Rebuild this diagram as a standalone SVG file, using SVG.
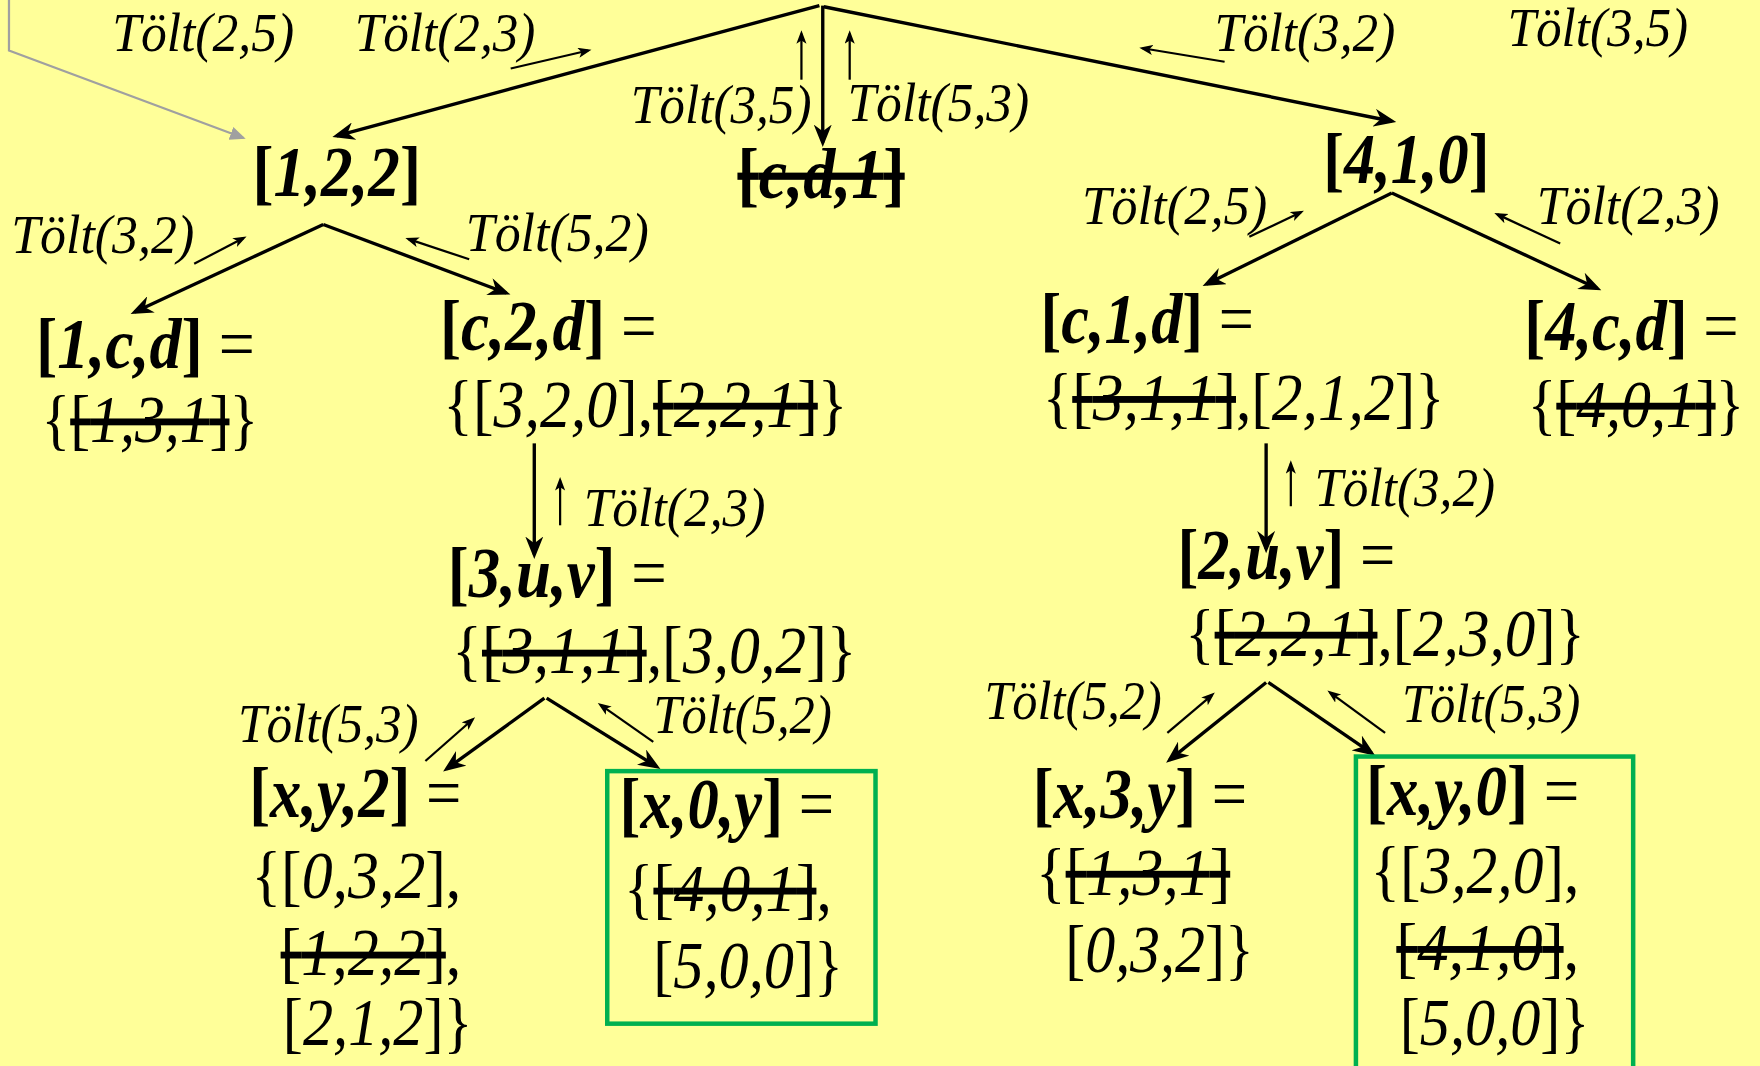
<svg xmlns="http://www.w3.org/2000/svg" width="1760" height="1066" viewBox="0 0 1760 1066">
<style>
.lbl{font-family:"Liberation Serif",serif;font-style:italic;font-size:49px;fill:#000}
.nd{font-family:"Liberation Serif",serif;font-weight:bold;font-size:64px;fill:#000}
.st{font-family:"Liberation Serif",serif;font-size:61px;fill:#000}
.i{font-style:italic}
.r{font-weight:normal;font-style:normal}
.x{text-decoration:line-through}
.m{stroke:#000;stroke-width:3;fill:none;marker-end:url(#am)}
.s{stroke:#000;stroke-width:2;fill:none;marker-end:url(#as)}
.g{stroke:#A0A0A0;stroke-width:2;fill:none;marker-end:url(#ag)}
.box{fill:none;stroke:#00B050;stroke-width:4}
</style>
<defs>
<marker id="am" markerWidth="22" markerHeight="16" refX="16" refY="8" orient="auto" markerUnits="userSpaceOnUse"><path d="M0,0 L20,8 L0,16 L6,8 z" fill="#000"/></marker>
<marker id="as" markerWidth="14" markerHeight="10" refX="9" refY="4.5" orient="auto" markerUnits="userSpaceOnUse"><path d="M0,0 L12,4.5 L0,9 L3,4.5 z" fill="#000"/></marker>
<marker id="ag" markerWidth="16" markerHeight="14" refX="12" refY="6" orient="auto" markerUnits="userSpaceOnUse"><path d="M0,0 L14,6 L0,12 z" fill="#A0A0A0"/></marker>
</defs>
<rect width="1760" height="1066" fill="#FFFF99"/>
<g transform="scale(1.12245)">
<g id="connectors">
<polyline class="g" points="8,0 8,45 217,123"/>
<line class="m" x1="730" y1="5" x2="300" y2="121"/>
<line class="m" x1="733" y1="5" x2="733" y2="127"/>
<line class="m" x1="734" y1="6" x2="1240" y2="108"/>
<line class="m" x1="288" y1="200" x2="120" y2="278"/>
<line class="m" x1="288" y1="200" x2="451" y2="261"/>
<line class="m" x1="476" y1="395" x2="476" y2="494"/>
<line class="m" x1="485" y1="622" x2="398" y2="685"/>
<line class="m" x1="487" y1="622" x2="585" y2="683"/>
<line class="m" x1="1240" y1="172" x2="1075" y2="253"/>
<line class="m" x1="1240" y1="172" x2="1423" y2="257"/>
<line class="m" x1="1128" y1="395" x2="1128" y2="489"/>
<line class="m" x1="1128" y1="608" x2="1042" y2="677"/>
<line class="m" x1="1130" y1="608" x2="1222" y2="671"/>
<line class="s" x1="455" y1="61" x2="524" y2="45"/>
<line class="s" x1="714" y1="71" x2="714" y2="30"/>
<line class="s" x1="757" y1="71" x2="757" y2="30"/>
<line class="s" x1="1091" y1="55" x2="1018" y2="43"/>
<line class="s" x1="173" y1="235" x2="217" y2="212"/>
<line class="s" x1="418" y1="231" x2="364" y2="213"/>
<line class="s" x1="499" y1="468" x2="499" y2="428"/>
<line class="s" x1="379" y1="678" x2="421" y2="641"/>
<line class="s" x1="582" y1="661" x2="535" y2="628"/>
<line class="s" x1="1113" y1="211" x2="1159" y2="189"/>
<line class="s" x1="1390" y1="217" x2="1334" y2="191"/>
<line class="s" x1="1150" y1="451" x2="1150" y2="413"/>
<line class="s" x1="1040" y1="653" x2="1080" y2="619"/>
<line class="s" x1="1234" y1="653" x2="1185" y2="617"/>
</g>
<g id="labels">
<text class="lbl" x="100" y="45" textLength="162" lengthAdjust="spacingAndGlyphs">Tölt(2,5)</text>
<text class="lbl" x="316" y="45" textLength="161" lengthAdjust="spacingAndGlyphs">Tölt(2,3)</text>
<text class="lbl" x="1082" y="45" textLength="161" lengthAdjust="spacingAndGlyphs">Tölt(3,2)</text>
<text class="lbl" x="1343" y="41" textLength="161" lengthAdjust="spacingAndGlyphs">Tölt(3,5)</text>
<text class="lbl" x="562" y="110" textLength="161" lengthAdjust="spacingAndGlyphs">Tölt(3,5)</text>
<text class="lbl" x="755" y="108" textLength="162" lengthAdjust="spacingAndGlyphs">Tölt(5,3)</text>
<text class="lbl" x="10" y="225" textLength="163" lengthAdjust="spacingAndGlyphs">Tölt(3,2)</text>
<text class="lbl" x="415" y="224" textLength="163" lengthAdjust="spacingAndGlyphs">Tölt(5,2)</text>
<text class="lbl" x="964" y="200" textLength="165" lengthAdjust="spacingAndGlyphs">Tölt(2,5)</text>
<text class="lbl" x="1369" y="200" textLength="163" lengthAdjust="spacingAndGlyphs">Tölt(2,3)</text>
<text class="lbl" x="520" y="469" textLength="162" lengthAdjust="spacingAndGlyphs">Tölt(2,3)</text>
<text class="lbl" x="1171" y="451" textLength="161" lengthAdjust="spacingAndGlyphs">Tölt(3,2)</text>
<text class="lbl" x="212" y="661" textLength="161" lengthAdjust="spacingAndGlyphs">Tölt(5,3)</text>
<text class="lbl" x="582" y="653" textLength="159" lengthAdjust="spacingAndGlyphs">Tölt(5,2)</text>
<text class="lbl" x="877" y="641" textLength="158" lengthAdjust="spacingAndGlyphs">Tölt(5,2)</text>
<text class="lbl" x="1249" y="643" textLength="159" lengthAdjust="spacingAndGlyphs">Tölt(5,3)</text>
</g>
<g id="n122"><text class="nd" x="225" y="175" textLength="150" lengthAdjust="spacingAndGlyphs">[<tspan class="i">1,2,2</tspan>]</text></g>
<g id="ncd1"><text class="nd" x="657" y="176" textLength="149" lengthAdjust="spacingAndGlyphs"><tspan class="x">[<tspan class="i">c,d,1</tspan>]</tspan></text></g>
<g id="n410"><text class="nd" x="1179" y="163" textLength="148" lengthAdjust="spacingAndGlyphs">[<tspan class="i">4,1,0</tspan>]</text></g>
<g id="n1cd">
<text class="nd" x="32" y="328" textLength="195" lengthAdjust="spacingAndGlyphs">[<tspan class="i">1,c,d</tspan>] <tspan class="r">=</tspan></text>
<text class="st" x="37" y="394" textLength="193" lengthAdjust="spacingAndGlyphs">{<tspan class="x">[<tspan class="i">1,3,1</tspan>]</tspan>}</text>
</g>
<g id="nc2d">
<text class="nd" x="392" y="312" textLength="193" lengthAdjust="spacingAndGlyphs">[<tspan class="i">c,2,d</tspan>] <tspan class="r">=</tspan></text>
<text class="st" x="395" y="380" textLength="360" lengthAdjust="spacingAndGlyphs">{[<tspan class="i">3,2,0</tspan>],<tspan class="x">[<tspan class="i">2,2,1</tspan>]</tspan>}</text>
</g>
<g id="nc1d">
<text class="nd" x="927" y="306" textLength="190" lengthAdjust="spacingAndGlyphs">[<tspan class="i">c,1,d</tspan>] <tspan class="r">=</tspan></text>
<text class="st" x="929" y="374" textLength="358" lengthAdjust="spacingAndGlyphs">{<tspan class="x">[<tspan class="i">3,1,1</tspan>]</tspan>,[<tspan class="i">2,1,2</tspan>]}</text>
</g>
<g id="n4cd">
<text class="nd" x="1358" y="312" textLength="191" lengthAdjust="spacingAndGlyphs">[<tspan class="i">4,c,d</tspan>] <tspan class="r">=</tspan></text>
<text class="st" x="1361" y="380" textLength="193" lengthAdjust="spacingAndGlyphs">{<tspan class="x">[<tspan class="i">4,0,1</tspan>]</tspan>}</text>
</g>
<g id="n3uv">
<text class="nd" x="399" y="532" textLength="195" lengthAdjust="spacingAndGlyphs">[<tspan class="i">3,u,v</tspan>] <tspan class="r">=</tspan></text>
<text class="st" x="403" y="600" textLength="360" lengthAdjust="spacingAndGlyphs">{<tspan class="x">[<tspan class="i">3,1,1</tspan>]</tspan>,[<tspan class="i">3,0,2</tspan>]}</text>
</g>
<g id="n2uv">
<text class="nd" x="1049" y="516" textLength="194" lengthAdjust="spacingAndGlyphs">[<tspan class="i">2,u,v</tspan>] <tspan class="r">=</tspan></text>
<text class="st" x="1056" y="584" textLength="356" lengthAdjust="spacingAndGlyphs">{<tspan class="x">[<tspan class="i">2,2,1</tspan>]</tspan>,[<tspan class="i">2,3,0</tspan>]}</text>
</g>
<g id="nxy2">
<text class="nd" x="222" y="728" textLength="189" lengthAdjust="spacingAndGlyphs">[<tspan class="i">x,y,2</tspan>] <tspan class="r">=</tspan></text>
<text class="st" x="224" y="800" textLength="187" lengthAdjust="spacingAndGlyphs">{[<tspan class="i">0,3,2</tspan>],</text>
<text class="st" x="250" y="869" textLength="161" lengthAdjust="spacingAndGlyphs"><tspan class="x">[<tspan class="i">1,2,2</tspan>]</tspan>,</text>
<text class="st" x="252" y="931" textLength="169" lengthAdjust="spacingAndGlyphs">[<tspan class="i">2,1,2</tspan>]}</text>
</g>
<g id="nx0y">
<rect class="box" x="541" y="687" width="239" height="225"/>
<text class="nd" x="552" y="738" textLength="191" lengthAdjust="spacingAndGlyphs">[<tspan class="i">x,0,y</tspan>] <tspan class="r">=</tspan></text>
<text class="st" x="556" y="812" textLength="185" lengthAdjust="spacingAndGlyphs">{<tspan class="x">[<tspan class="i">4,0,1</tspan>]</tspan>,</text>
<text class="st" x="582" y="880" textLength="169" lengthAdjust="spacingAndGlyphs">[<tspan class="i">5,0,0</tspan>]}</text>
</g>
<g id="nx3y">
<text class="nd" x="920" y="729" textLength="191" lengthAdjust="spacingAndGlyphs">[<tspan class="i">x,3,y</tspan>] <tspan class="r">=</tspan></text>
<text class="st" x="923" y="797" textLength="173" lengthAdjust="spacingAndGlyphs">{<tspan class="x">[<tspan class="i">1,3,1</tspan>]</tspan></text>
<text class="st" x="949" y="866" textLength="168" lengthAdjust="spacingAndGlyphs">[<tspan class="i">0,3,2</tspan>]}</text>
</g>
<g id="nxy0">
<rect class="box" x="1208" y="674" width="247" height="300"/>
<text class="nd" x="1217" y="726" textLength="190" lengthAdjust="spacingAndGlyphs">[<tspan class="i">x,y,0</tspan>] <tspan class="r">=</tspan></text>
<text class="st" x="1221" y="796" textLength="186" lengthAdjust="spacingAndGlyphs">{[<tspan class="i">3,2,0</tspan>],</text>
<text class="st" x="1244" y="864" textLength="163" lengthAdjust="spacingAndGlyphs"><tspan class="x">[<tspan class="i">4,1,0</tspan>]</tspan>,</text>
<text class="st" x="1247" y="931" textLength="169" lengthAdjust="spacingAndGlyphs">[<tspan class="i">5,0,0</tspan>]}</text>
</g>
</g>
</svg>
